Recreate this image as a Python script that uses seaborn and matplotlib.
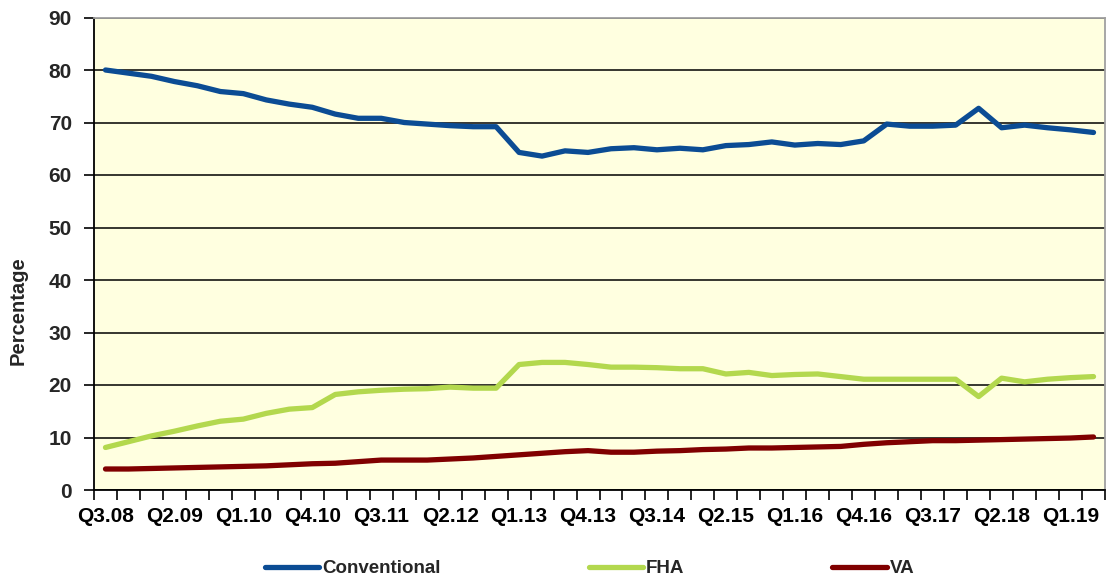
import matplotlib
matplotlib.use("Agg")
import matplotlib.pyplot as plt
from matplotlib.lines import Line2D
import seaborn as sns
import pandas as pd
import numpy as np

quarters = ["Q3.08", "Q4.08",
            "Q1.09", "Q2.09", "Q3.09", "Q4.09",
            "Q1.10", "Q2.10", "Q3.10", "Q4.10",
            "Q1.11", "Q2.11", "Q3.11", "Q4.11",
            "Q1.12", "Q2.12", "Q3.12", "Q4.12",
            "Q1.13", "Q2.13", "Q3.13", "Q4.13",
            "Q1.14", "Q2.14", "Q3.14", "Q4.14",
            "Q1.15", "Q2.15", "Q3.15", "Q4.15",
            "Q1.16", "Q2.16", "Q3.16", "Q4.16",
            "Q1.17", "Q2.17", "Q3.17", "Q4.17",
            "Q1.18", "Q2.18", "Q3.18", "Q4.18",
            "Q1.19", "Q2.19"]

conventional = [80.0, 79.4, 78.8, 77.8, 77.0, 75.9, 75.5, 74.3, 73.5, 72.9,
                71.6, 70.8, 70.8, 70.0, 69.7, 69.4, 69.2, 69.2, 64.3, 63.6,
                64.6, 64.3, 65.0, 65.2, 64.8, 65.1, 64.8, 65.6, 65.8, 66.3,
                65.7, 66.0, 65.8, 66.5, 69.7, 69.3, 69.3, 69.5, 72.7, 69.0,
                69.5, 69.0, 68.6, 68.1]
fha = [8.1, 9.2, 10.3, 11.2, 12.2, 13.1, 13.5, 14.6, 15.4, 15.7,
       18.2, 18.7, 19.0, 19.2, 19.3, 19.6, 19.4, 19.4, 23.9, 24.3,
       24.3, 23.9, 23.4, 23.4, 23.3, 23.1, 23.1, 22.1, 22.4, 21.8,
       22.0, 22.1, 21.6, 21.1, 21.1, 21.1, 21.1, 21.1, 17.8, 21.3,
       20.6, 21.1, 21.4, 21.6]
va = [4.0, 4.0, 4.1, 4.2, 4.3, 4.4, 4.5, 4.6, 4.8, 5.0,
      5.1, 5.4, 5.7, 5.7, 5.7, 5.9, 6.1, 6.4, 6.7, 7.0,
      7.3, 7.5, 7.2, 7.2, 7.4, 7.5, 7.7, 7.8, 8.0, 8.0,
      8.1, 8.2, 8.3, 8.7, 9.0, 9.2, 9.4, 9.4, 9.5, 9.6,
      9.7, 9.8, 9.9, 10.1]

series_names = ["Conventional", "FHA", "VA"]
colors = {"Conventional": "#0B4C94", "FHA": "#B3D84E", "VA": "#800000"}
y_ticks = [0, 10, 20, 30, 40, 50, 60, 70, 80, 90]

rows = []
for name, vals in zip(series_names, [conventional, fha, va]):
    for i, (q, v) in enumerate(zip(quarters, vals)):
        rows.append({"idx": i, "quarter": q, "value": v, "series": name})
df = pd.DataFrame(rows)

sns.set_theme(style="white")
plt.rcParams["font.family"] = ["Liberation Sans", "DejaVu Sans"]
plt.rcParams["font.weight"] = "bold"

fig = plt.figure(figsize=(11.07, 5.8), dpi=100)
ax = fig.add_axes([94 / 1107, 1 - 490 / 580, (1105 - 94) / 1107, (490 - 17.5) / 580])
ax.set_facecolor("#FFFFE0")

sns.lineplot(data=df, x="idx", y="value", hue="series", hue_order=series_names,
             palette=colors, linewidth=3.8, legend=False, ax=ax,
             solid_capstyle="round", solid_joinstyle="round", zorder=3)

n = len(quarters)
ax.set_xlim(-0.5, n - 0.5)
ax.set_ylim(0, 90)
ax.set_yticks(y_ticks)
ax.set_yticklabels([str(t) for t in y_ticks], fontsize=15, fontweight="bold")

label_pos = list(range(0, n, 3))
ax.set_xticks(label_pos)
ax.set_xticklabels([quarters[i] for i in label_pos], fontsize=15, fontweight="bold")
ax.set_xticks(np.arange(-0.5, n, 1.0), minor=True)
ax.tick_params(axis="x", which="major", length=0, pad=12, colors="black")
ax.tick_params(axis="x", which="minor", length=7, width=1.2, direction="out", color="black", bottom=True)
ax.tick_params(axis="y", which="major", length=7, width=1.2, direction="out", pad=9, color="black", left=True)

ax.yaxis.grid(True, color="black", linewidth=1.1)
ax.xaxis.grid(False)
ax.set_axisbelow(True)

for side in ["left", "bottom"]:
    ax.spines[side].set_color("black")
    ax.spines[side].set_linewidth(1.3)
for side in ["top", "right"]:
    ax.spines[side].set_color("#A0A0A0")
    ax.spines[side].set_linewidth(1.3)

ax.set_xlabel("")
ax.set_ylabel("Percentage", fontsize=14.5, fontweight="bold")
ax.yaxis.set_label_coords(-0.066, 0.38)

handles = [Line2D([0], [0], color=colors[s], linewidth=3.8, solid_capstyle="round") for s in series_names]
ax.legend(handles, series_names, loc="center", bbox_to_anchor=(0.49, -0.167),
          ncol=3, frameon=False, handlelength=2.9, handletextpad=0.15,
          columnspacing=7.9, prop={"size": 13.5, "weight": "bold"})

fig.savefig("out.png", dpi=100)
